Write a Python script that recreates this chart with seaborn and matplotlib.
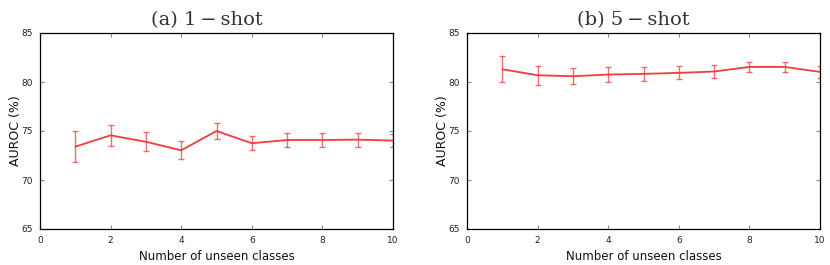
import matplotlib
matplotlib.use("Agg")
import matplotlib.pyplot as plt
import seaborn as sns
import pandas as pd

sns.set_theme(style="white")
plt.rcParams['font.family'] = ['DejaVu Sans']

classes = [1, 2, 3, 4, 5, 6, 7, 8, 9, 10]
auroc_1shot = [73.4, 74.56, 73.9, 73.03, 75.0, 73.75, 74.08, 74.08, 74.12, 74.02]
err_1shot = [1.55, 1.1, 0.95, 0.9, 0.8, 0.72, 0.7, 0.7, 0.72, 0.66]
auroc_5shot = [81.3, 80.69, 80.59, 80.76, 80.83, 80.93, 81.07, 81.54, 81.54, 81.03]
err_5shot = [1.35, 0.95, 0.8, 0.77, 0.7, 0.67, 0.65, 0.55, 0.55, 0.6]
titles = ["(a) 1\u2009\u2212\u2009shot", "(b) 5\u2009\u2212\u2009shot"]
xticks = [0, 2, 4, 6, 8, 10]
yticks = [65, 70, 75, 80, 85]

red = "#f03c3c"

fig = plt.figure(figsize=(8.3, 2.65), dpi=100)
positions = [[40/830, 36/265, 353/830, 196/265],
             [467/830, 36/265, 353/830, 196/265]]

for pos, vals, errs, title in zip(positions, [auroc_1shot, auroc_5shot],
                                  [err_1shot, err_5shot], titles):
    ax = fig.add_axes(pos)
    df = pd.DataFrame({"x": classes, "y": vals})
    sns.lineplot(data=df, x="x", y="y", ax=ax, color=red, linewidth=1.3)
    ax.errorbar(classes, vals, yerr=errs, fmt="none", ecolor=red,
                elinewidth=1.0, capsize=2.0, capthick=1.0, alpha=0.75)
    ax.set_xlim(0, 10)
    ax.set_ylim(65, 85)
    ax.set_xticks(xticks)
    ax.set_yticks(yticks)
    ax.tick_params(direction="in", length=3, width=0.8, color="#888888",
                   labelsize=6.5, labelcolor="#222222", pad=5,
                   top=True, right=True, bottom=True, left=True)
    for s in ax.spines.values():
        s.set_color("black")
        s.set_linewidth(0.9)
    ax.set_xlabel("Number of unseen classes", fontsize=8.5, labelpad=4, color="#111111")
    ax.set_ylabel("AUROC (%)", fontsize=9, labelpad=0, color="#111111")
    ax.set_title(title, fontsize=14, family=["DejaVu Serif"],
                 pad=6, color="#333333", x=0.472)

fig.savefig("out.png", dpi=100)
